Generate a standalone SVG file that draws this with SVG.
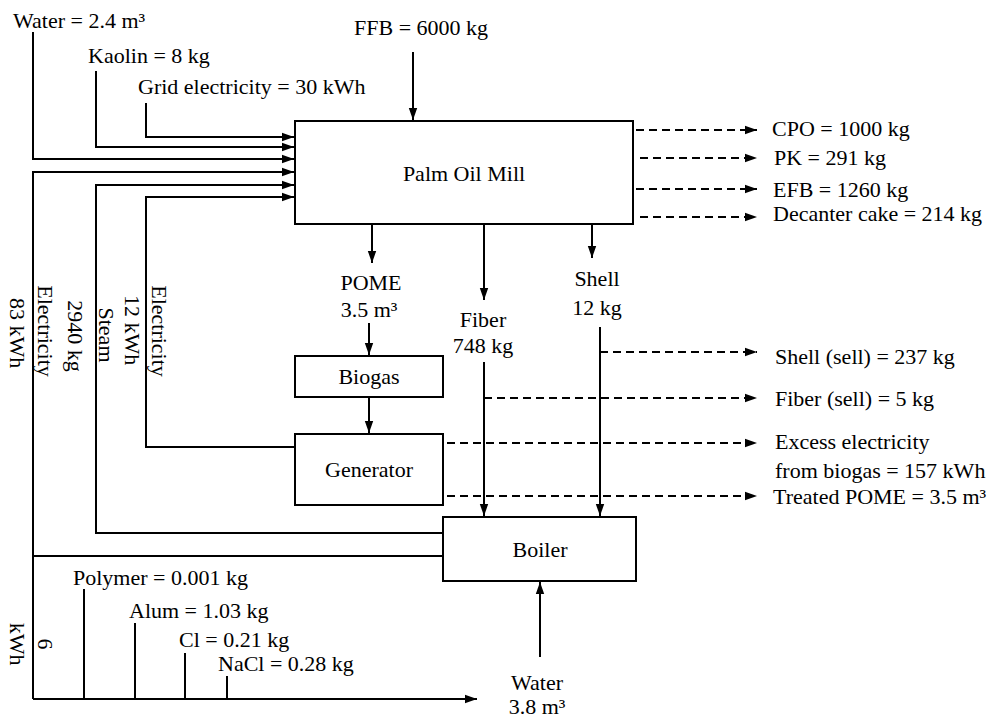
<svg xmlns="http://www.w3.org/2000/svg" width="998" height="718" viewBox="0 0 998 718">
<style>
text{font-family:"Liberation Serif","Times New Roman",serif;font-size:22px;fill:#000}
.m{text-anchor:middle}
.box{fill:#fff;stroke:#000;stroke-width:2}
.ln{fill:none;stroke:#000;stroke-width:2}
.ar{marker-end:url(#ah)}
.ds{stroke-dasharray:8 5}
</style>
<defs>
<marker id="ah" markerUnits="userSpaceOnUse" markerWidth="12" markerHeight="10" refX="12" refY="5" orient="auto">
<path d="M0,0.8 L12,5 L0,9.2 z" fill="#000"/>
</marker>
</defs>
<rect width="998" height="718" fill="#fff"/>
<g id="connectors">
<path class="ln ar" d="M413,52 V120"/>
<path class="ln ar" d="M146,103 V137 H294"/>
<path class="ln ar" d="M96,71 V147 H294"/>
<path class="ln ar" d="M33,32 V159 H294"/>
<path class="ln ar" d="M33,699 V172 H294"/>
<path class="ln" d="M33,556 H443"/>
<path class="ln ar" d="M33,699 H477"/>
<path class="ln ar" d="M443,533 H96 V185 H294"/>
<path class="ln ar" d="M295,447 H146 V197 H294"/>
<path class="ln ar" d="M372,225 V263"/>
<path class="ln ar" d="M369,323 V355"/>
<path class="ln ar" d="M369,398 V433"/>
<path class="ln ar" d="M484,225 V300"/>
<path class="ln ar" d="M484,362 V516"/>
<path class="ln ar" d="M592,225 V258"/>
<path class="ln ar" d="M600,327 V516"/>
<path class="ln ar" d="M540,657 V582"/>
<path class="ln" d="M84,589 V699 M135,623 V699 M185,653 V699 M227,676 V699"/>
<path class="ln ds ar" d="M636,130 H757"/>
<path class="ln ds ar" d="M640,158 H757"/>
<path class="ln ds ar" d="M636,189 H757"/>
<path class="ln ds ar" d="M640,217 H757"/>
<path class="ln ds ar" d="M600,352 H757"/>
<path class="ln ds ar" d="M484,398 H757"/>
<path class="ln ds ar" d="M447,443 H757"/>
<path class="ln ds ar" d="M447,496 H757"/>
</g>
<g id="mill"><rect class="box" x="295" y="121" width="338" height="103"/><text class="m" x="464" y="181">Palm Oil Mill</text></g>
<g id="biogas"><rect class="box" x="295" y="356" width="148" height="41"/><text class="m" x="369" y="384">Biogas</text></g>
<g id="generator"><rect class="box" x="295" y="434" width="148" height="71"/><text class="m" x="369" y="477">Generator</text></g>
<g id="boiler"><rect class="box" x="443" y="517" width="193" height="64"/><text class="m" x="540" y="557">Boiler</text></g>
<g id="labels">
<text x="13" y="28">Water = 2.4 m³</text>
<text x="88" y="63">Kaolin = 8 kg</text>
<text x="138" y="94">Grid electricity = 30 kWh</text>
<text x="354" y="35">FFB = 6000 kg</text>
<text x="772" y="136">CPO = 1000 kg</text>
<text x="774" y="165">PK = 291 kg</text>
<text x="773" y="197">EFB = 1260 kg</text>
<text x="773" y="221">Decanter cake = 214 kg</text>
<text class="m" x="371" y="290">POME</text>
<text class="m" x="369" y="317">3.5 m³</text>
<text class="m" x="483" y="327">Fiber</text>
<text class="m" x="483" y="353">748 kg</text>
<text class="m" x="597" y="286">Shell</text>
<text class="m" x="597" y="315">12 kg</text>
<text x="775" y="364">Shell (sell) = 237 kg</text>
<text x="775" y="406">Fiber (sell) = 5 kg</text>
<text x="775" y="449">Excess electricity</text>
<text x="775" y="478">from biogas = 157 kWh</text>
<text x="773" y="504">Treated POME = 3.5 m³</text>
<text class="m" x="537" y="690">Water</text>
<text class="m" x="537" y="714">3.8 m³</text>
<text x="73" y="585">Polymer = 0.001 kg</text>
<text x="129" y="618">Alum = 1.03 kg</text>
<text x="179" y="647">Cl = 0.21 kg</text>
<text x="218" y="671">NaCl = 0.28 kg</text>
<text class="m" transform="translate(38,331) rotate(90)">Electricity</text>
<text class="m" transform="translate(10,333) rotate(90)">83 kWh</text>
<text class="m" transform="translate(99,335) rotate(90)">Steam</text>
<text class="m" transform="translate(68,336) rotate(90)">2940 kg</text>
<text class="m" transform="translate(152,331) rotate(90)">Electricity</text>
<text class="m" transform="translate(125,330) rotate(90)">12 kWh</text>
<text class="m" transform="translate(38,644) rotate(90)">6</text>
<text class="m" transform="translate(10,644) rotate(90)">kWh</text>
</g>
</svg>
